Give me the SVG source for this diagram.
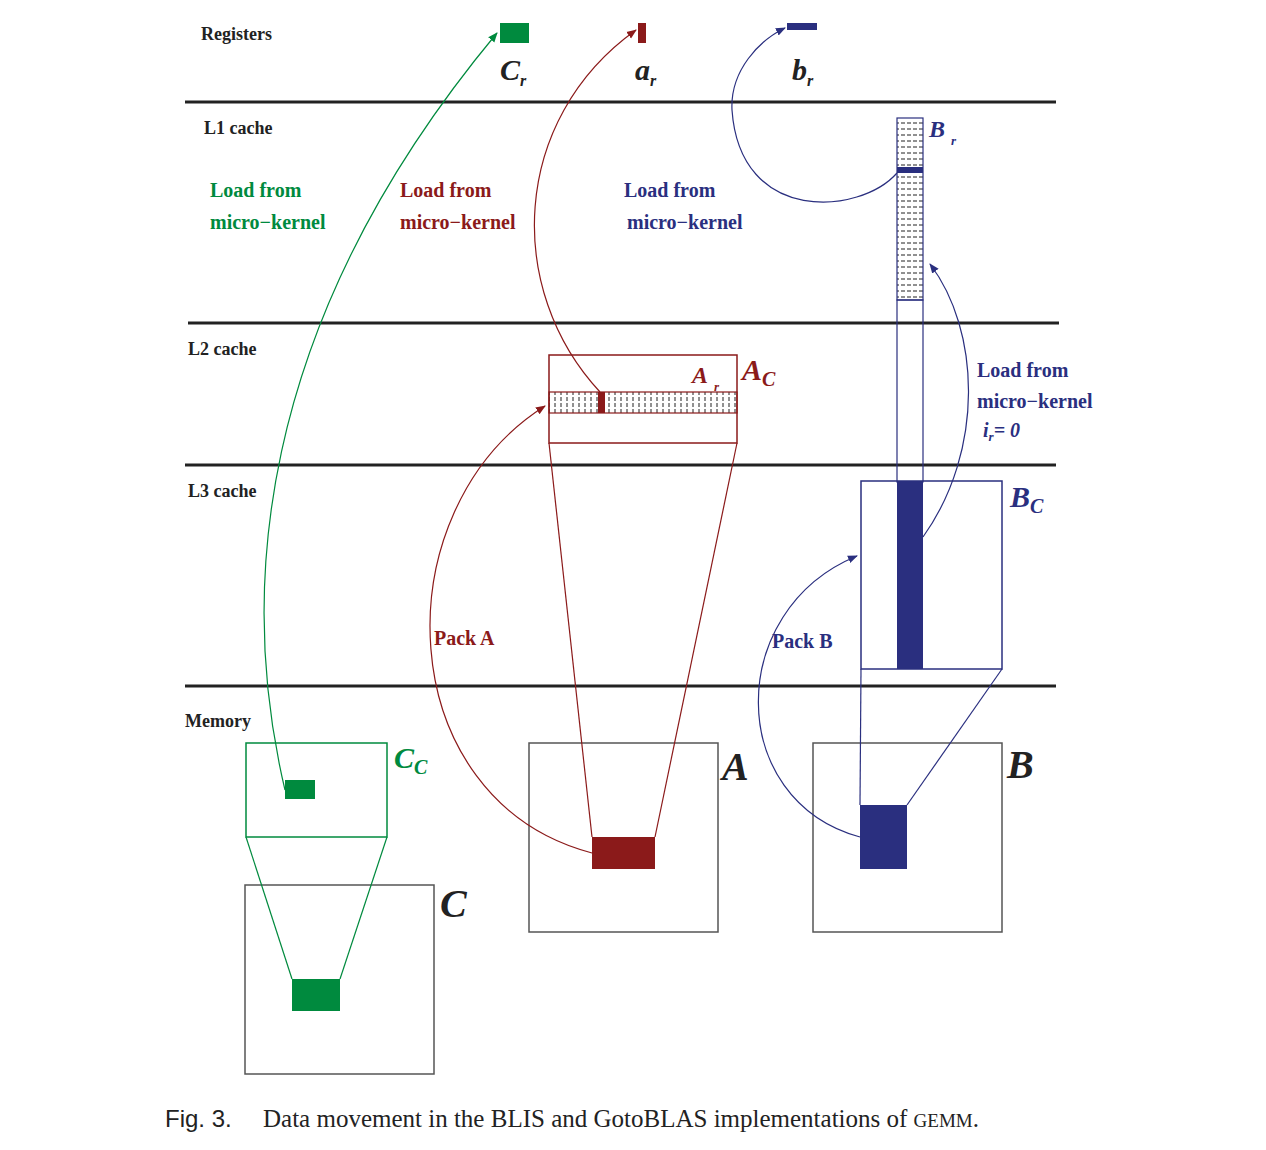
<svg xmlns="http://www.w3.org/2000/svg" width="1266" height="1150" viewBox="0 0 1266 1150">
<defs>
<style>
.lvl{stroke:#222;stroke-width:3}
.lab{font-family:"Liberation Serif",serif;font-weight:bold;font-size:18px;fill:#222}
.g{fill:#008a3e}.r{fill:#8b1a1a}.b{fill:#2a2f7f}
.t{font-family:"Liberation Serif",serif;font-weight:bold;font-size:20px}
.it{font-family:"Liberation Serif",serif;font-weight:bold;font-style:italic}
.box{fill:none;stroke-width:1.5}
</style>
<marker id="ag" markerWidth="10" markerHeight="10" refX="9" refY="5" orient="auto" markerUnits="userSpaceOnUse"><path d="M0,1 L10,5 L0,9 z" fill="#008a3e"/></marker>
<marker id="ar" markerWidth="10" markerHeight="10" refX="9" refY="5" orient="auto" markerUnits="userSpaceOnUse"><path d="M0,1 L10,5 L0,9 z" fill="#8b1a1a"/></marker>
<marker id="ab" markerWidth="10" markerHeight="10" refX="9" refY="5" orient="auto" markerUnits="userSpaceOnUse"><path d="M0,1 L10,5 L0,9 z" fill="#2a2f7f"/></marker>
<pattern id="dashv" width="6" height="6" patternUnits="userSpaceOnUse"><line x1="3" y1="1" x2="3" y2="5" stroke="#222" stroke-width="1"/></pattern>
<pattern id="dashh" width="6" height="6" patternUnits="userSpaceOnUse"><line x1="1" y1="3" x2="5" y2="3" stroke="#222" stroke-width="1"/></pattern>
</defs>
<rect width="1266" height="1150" fill="#fff"/>
<g id="levels">
<line class="lvl" x1="185" y1="102" x2="1056" y2="102"/>
<line class="lvl" x1="188" y1="323" x2="1059" y2="323"/>
<line class="lvl" x1="185" y1="465" x2="1056" y2="465"/>
<line class="lvl" x1="185" y1="686" x2="1056" y2="686"/>
<text class="lab" x="201" y="40">Registers</text>
<text class="lab" x="204" y="134">L1 cache</text>
<text class="lab" x="188" y="355">L2 cache</text>
<text class="lab" x="188" y="497">L3 cache</text>
<text class="lab" x="185" y="727">Memory</text>
</g>
<g id="registers">
<rect x="500" y="23" width="29" height="20" class="g"/>
<rect x="638" y="23" width="8" height="20" class="r"/>
<rect x="787" y="23" width="30" height="7" class="b"/>
<text class="it" x="500" y="80" font-size="30" fill="#222">C<tspan font-size="16" dy="6">r</tspan></text>
<text class="it" x="635" y="80" font-size="30" fill="#222">a<tspan font-size="16" dy="6">r</tspan></text>
<text class="it" x="792" y="80" font-size="30" fill="#222">b<tspan font-size="16" dy="6">r</tspan></text>
</g>
<g id="Br">
<rect x="897" y="118" width="26" height="182" fill="url(#dashh)" stroke="#2a2f7f" stroke-width="1.2"/>
<rect x="897" y="300" width="26" height="182" fill="none" stroke="#2a2f7f" stroke-width="1.2"/>
<rect x="897" y="167" width="26" height="6" class="b"/>
<text class="it b" x="929" y="137" font-size="24">B<tspan font-size="13" dx="6" dy="8">r</tspan></text>
</g>
<g id="Ac">
<rect x="549" y="355" width="188" height="88" class="box" stroke="#8b1a1a" stroke-width="2"/>
<rect x="549" y="392" width="188" height="21" fill="url(#dashv)" stroke="#8b1a1a" stroke-width="1.2"/>
<rect x="598" y="392" width="7" height="21" class="r"/>
<text class="it r" x="692" y="383" font-size="24">A<tspan font-size="13" dx="6" dy="8">r</tspan></text>
<text class="it r" x="742" y="380" font-size="30">A<tspan font-size="20" dy="6">C</tspan></text>
</g>
<g id="Bc">
<rect x="861" y="481" width="141" height="188" class="box" stroke="#2a2f7f" stroke-width="2"/>
<rect x="897" y="481" width="26" height="188" class="b"/>
<text class="it b" x="1010" y="507" font-size="30">B<tspan font-size="20" dy="6">C</tspan></text>
</g>
<g id="B">
<rect x="813" y="743" width="189" height="189" class="box" stroke="#555" stroke-width="1.3"/>
<rect x="860" y="805" width="47" height="64" class="b"/>
<text class="it" x="1007" y="778" font-size="40" fill="#222">B</text>
</g>
<g id="A">
<rect x="529" y="743" width="189" height="189" class="box" stroke="#555" stroke-width="1.3"/>
<rect x="592" y="837" width="63" height="32" class="r"/>
<text class="it" x="722" y="780" font-size="40" fill="#222">A</text>
</g>
<g id="Cc">
<rect x="246" y="743" width="141" height="94" class="box" stroke="#008a3e" stroke-width="2"/>
<rect x="285" y="780" width="30" height="19" class="g"/>
<text class="it g" x="394" y="768" font-size="30">C<tspan font-size="20" dy="6">C</tspan></text>
</g>
<g id="C">
<rect x="245" y="885" width="189" height="189" class="box" stroke="#555" stroke-width="1.3"/>
<rect x="292" y="979" width="48" height="32" class="g"/>
<text class="it" x="440" y="917" font-size="40" fill="#222">C</text>
</g>
<g id="connectors" fill="none" stroke-width="1.2">
<line x1="549" y1="443" x2="592" y2="837" stroke="#8b1a1a"/>
<line x1="737" y1="443" x2="655" y2="837" stroke="#8b1a1a"/>
<line x1="861" y1="669" x2="860" y2="805" stroke="#2a2f7f"/>
<line x1="1002" y1="669" x2="907" y2="805" stroke="#2a2f7f"/>
<line x1="246" y1="837" x2="292" y2="979" stroke="#008a3e"/>
<line x1="387" y1="837" x2="340" y2="979" stroke="#008a3e"/>
<path d="M285,790 C240,600 250,330 497,33" stroke="#008a3e" marker-end="url(#ag)"/>
<path d="M600,392 C505,290 510,120 636,30" stroke="#8b1a1a" marker-end="url(#ar)"/>
<path d="M897,173 C860,215 740,225 732,110 C730,70 760,40 785,28" stroke="#2a2f7f" marker-end="url(#ab)"/>
<path d="M592,853 C390,800 380,510 545,406" stroke="#8b1a1a" marker-end="url(#ar)"/>
<path d="M860,837 C725,800 725,610 857,556" stroke="#2a2f7f" marker-end="url(#ab)"/>
<path d="M923,537 C985,450 980,330 930,264" stroke="#2a2f7f" marker-end="url(#ab)"/>
</g>
<g id="labels">
<text class="t g" x="210" y="197">Load from</text>
<text class="t g" x="210" y="229">micro−kernel</text>
<text class="t r" x="400" y="197">Load from</text>
<text class="t r" x="400" y="229">micro−kernel</text>
<text class="t b" x="624" y="197">Load from</text>
<text class="t b" x="627" y="229">micro−kernel</text>
<text class="t b" x="977" y="377">Load from</text>
<text class="t b" x="977" y="408">micro−kernel</text>
<text class="it b" x="983" y="437" font-size="20">i<tspan font-size="13" dy="4">r</tspan><tspan dy="-4">= 0</tspan></text>
<text class="t r" x="434" y="645">Pack A</text>
<text class="t b" x="772" y="648">Pack B</text>
</g>
<text x="165" y="1127" font-family="Liberation Sans,sans-serif" font-size="24" fill="#222">Fig. 3.</text>
<text x="263" y="1127" font-family="Liberation Serif,serif" font-size="25" fill="#222">Data movement in the BLIS and GotoBLAS implementations of <tspan font-size="19">GEMM</tspan>.</text>
</svg>
